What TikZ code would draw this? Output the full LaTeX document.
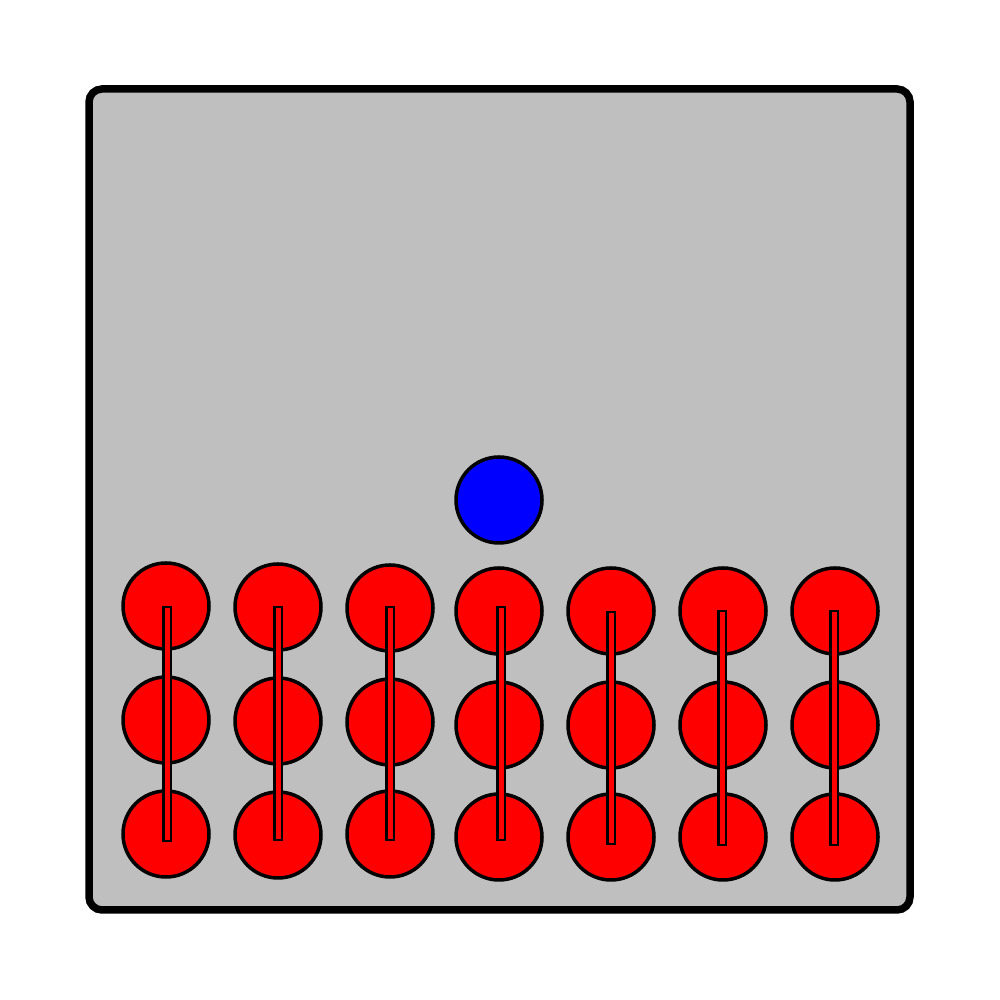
\documentclass[tikz,border=0pt]{standalone}
\usepackage{tikz}
\usetikzlibrary{positioning}
\tikzset{
  frame/.style   = {draw, line width=0.075cm, fill=black!25, rounded corners=0.13cm},
  bead/.style    = {circle, draw, fill=red, line width=0.035cm, inner sep=0pt,
                    minimum size=0.86cm},
  ball/.style    = {circle, draw, fill=blue, line width=0.035cm, inner sep=0pt,
                    minimum size=0.86cm},
  rod/.style     = {rectangle, draw, fill=red, line width=0.025cm, inner sep=0pt,
                    minimum width=0.075cm},
}

\begin{document}
\begin{tikzpicture}
  \useasboundingbox (0,0) rectangle (10,10);
  \node[frame, minimum width=8.21cm, minimum height=8.21cm, inner sep=0pt]
    (box) at (4.995,5.005) {};
  \node[ball] (b) at (4.99,5.00) {};
  % columns: x, top, middle, bottom, rod x, rod top, rod bottom
  \foreach \i/\x/\ya/\yb/\yc/\rx/\rt/\rb in {
      1/1.66/3.94/2.80/1.66/1.67/3.93/1.59,
      2/2.78/3.93/2.79/1.65/2.78/3.93/1.60,
      3/3.90/3.92/2.78/1.66/3.90/3.93/1.60,
      4/4.99/3.89/2.75/1.63/5.01/3.93/1.60,
      5/6.11/3.89/2.75/1.63/6.11/3.88/1.56,
      6/7.23/3.89/2.75/1.63/7.22/3.89/1.55,
      7/8.35/3.89/2.75/1.63/8.34/3.89/1.55} {
    \node[bead] (t\i) at (\x,\ya) {};
    \node[bead] (m\i) at (\x,\yb) {};
    \node[bead] (u\i) at (\x,\yc) {};
    \node[rod, minimum height={(\rt-\rb)*1cm}] (r\i)
      at (\rx,{(\rt+\rb)/2}) {};
  }
\end{tikzpicture}
\end{document}
